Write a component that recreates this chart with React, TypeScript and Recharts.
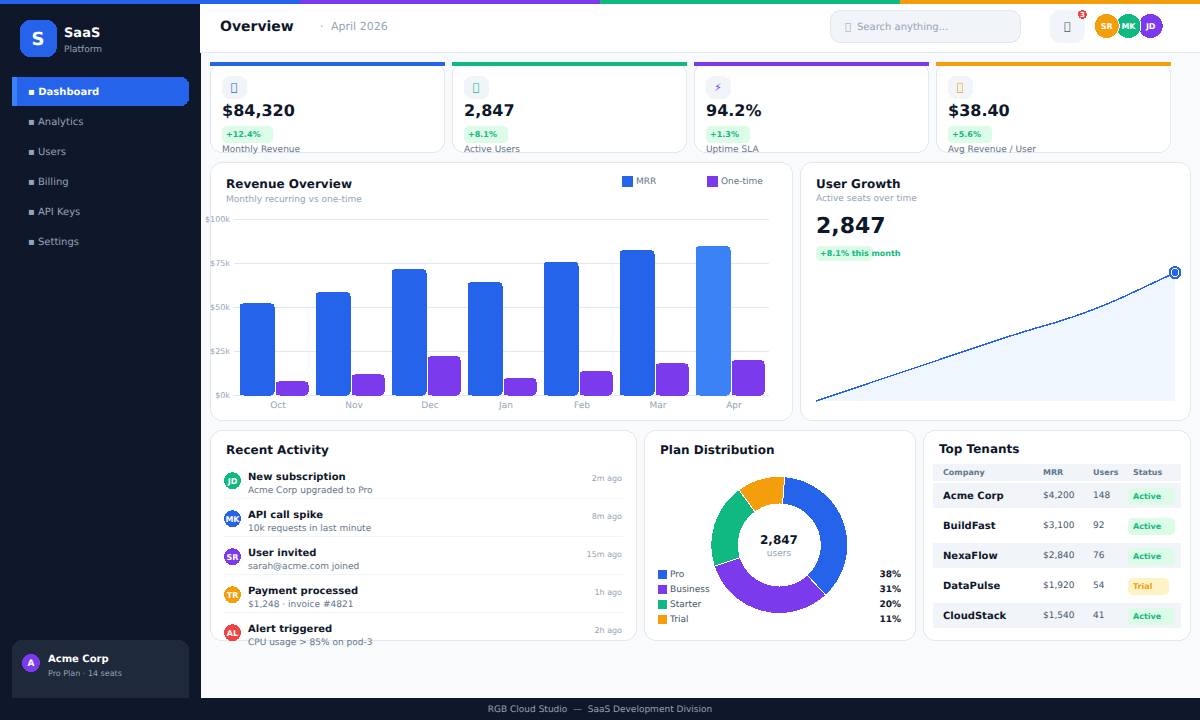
import React from 'react';
import { BarChart, Bar, XAxis, YAxis, CartesianGrid, Cell, AreaChart, Area, PieChart, Pie } from 'recharts';

const FONT = '"DejaVu Sans", sans-serif';
const BLUE = '#2563eb';
const VIOLET = '#7c3aed';
const GREEN = '#10b981';
const AMBER = '#f59e0b';
const RED = '#ef4444';
const INK = '#0f172a';
const SLATE = '#64748b';
const MUTED = '#94a3b8';
const LINE = '#e2e8f0';
const SOFT = '#f1f5f9';
const TOFU = '\uE000';

const stripColors = [BLUE, VIOLET, GREEN, AMBER];
const navItems = ['Dashboard', 'Analytics', 'Users', 'Billing', 'API Keys', 'Settings'];

const kpiIcons = [TOFU, TOFU, '⚡', TOFU];
const kpiColors = [BLUE, GREEN, VIOLET, AMBER];
const kpiValues = ['$84,320', '2,847', '94.2%', '$38.40'];
const kpiDeltas = ['+12.4%', '+8.1%', '+1.3%', '+5.6%'];
const kpiDeltaWidths = [51, 44, 44, 44];
const kpiLabels = ['Monthly Revenue', 'Active Users', 'Uptime SLA', 'Avg Revenue / User'];

const months = ['Oct', 'Nov', 'Dec', 'Jan', 'Feb', 'Mar', 'Apr'];
const mrrValues = [52.3, 58.7, 71.8, 64.4, 75.8, 82.6, 84.8];
const oneTimeValues = [8, 12, 22.3, 9.8, 13.8, 18.2, 20];
const revenueTicks = [0, 25, 50, 75, 100];

const seatValues = [1000, 1144, 1289, 1433, 1577, 1722, 1866, 2004, 2130, 2273, 2446, 2645, 2847];

const planNames = ['Pro', 'Business', 'Starter', 'Trial'];
const planSlices = [132.7, 114.8, 71.8, 40.7];
const planPercents = ['38%', '31%', '20%', '11%'];
const planColors = [BLUE, VIOLET, GREEN, AMBER];

const activityInitials = ['JD', 'MK', 'SR', 'TR', 'AL'];
const activityColors = [GREEN, BLUE, VIOLET, AMBER, RED];
const activityTitles = ['New subscription', 'API call spike', 'User invited', 'Payment processed', 'Alert triggered'];
const activitySubs = ['Acme Corp upgraded to Pro', '10k requests in last minute', 'sarah@acme.com joined', '$1,248 · invoice #4821', 'CPU usage > 85% on pod-3'];
const activityTimes = ['2m ago', '8m ago', '15m ago', '1h ago', '2h ago'];

const tenantNames = ['Acme Corp', 'BuildFast', 'NexaFlow', 'DataPulse', 'CloudStack'];
const tenantMrr = ['$4,200', '$3,100', '$2,840', '$1,920', '$1,540'];
const tenantUsers = ['148', '92', '76', '54', '41'];
const tenantStatus = ['Active', 'Active', 'Active', 'Trial', 'Active'];
const tableHeads = ['Company', 'MRR', 'Users', 'Status'];
const tableHeadX = [943, 1043, 1093, 1133];

const headerAvatars = ['JD', 'MK', 'SR'];
const headerAvatarColors = [VIOLET, GREEN, AMBER];
const headerAvatarX = [1150.7, 1128.5, 1106.7];

const revenueRows = months.map((m, i) => ({ month: m, mrr: mrrValues[i], oneTime: oneTimeValues[i] }));
const seatRows = seatValues.map((v, i) => ({ idx: i, seats: v }));
const planRows = planNames.map((n, i) => ({ name: n, value: planSlices[i] }));

function T({ x, y, size = 9, weight = 400, color = INK, right, center, children }: any) {
  const px = right !== undefined ? right : center !== undefined ? center : x;
  const anchor = right !== undefined ? 'end' : center !== undefined ? 'middle' : 'start';
  return (
    <text x={px} y={Math.round(y + size * 0.346)} fontSize={size} fontWeight={weight} fill={color} textAnchor={anchor} style={{ whiteSpace: 'pre' }}>
      {children}
    </text>
  );
}

function R({ x, y, w, h, bg, r = 0 }: any) {
  return <rect x={x} y={y} width={w} height={h} rx={r} ry={r} fill={bg} />;
}

function Card({ x, y, w, h }: any) {
  return <rect x={x + 0.5} y={y + 0.5} width={w - 1} height={h - 1} rx={12} ry={12} fill="#fff" stroke={LINE} strokeWidth={1} />;
}

function Disc({ cx, cy, d, bg, label, size = 8, stroke }: any) {
  return (
    <>
      <circle cx={cx} cy={cy} r={d / 2} fill={bg} stroke={stroke} strokeWidth={stroke ? 1 : 0} />
      <T center={cx} y={cy} size={size} weight={700} color="#fff">{label}</T>
    </>
  );
}

function LastDot(props: any) {
  const { cx, cy, index } = props;
  if (index !== seatValues.length - 1) return <g key={index} />;
  return (
    <g key={index}>
      <circle cx={cx} cy={cy} r={5.5} fill="#fff" stroke={BLUE} strokeWidth={2} />
      <circle cx={cx} cy={cy} r={3.5} fill={BLUE} />
    </g>
  );
}

export default function App() {
  return (
    <div style={{ position: 'absolute', left: 0, top: 0, width: 1200, height: 720, overflow: 'hidden', background: '#f8fafc', fontFamily: FONT, shapeRendering: 'crispEdges', textRendering: 'geometricPrecision' } as any}>
      <svg width={1200} height={720} style={{ position: 'absolute', left: 0, top: 0, display: 'block' }}>
        {/* sidebar */}
        <R x={0} y={0} w={201} h={720} bg={INK} />
        <R x={20} y={20} w={37} h={37} bg={BLUE} r={10} />
        <T center={38} y={39} size={18} weight={700} color="#fff">S</T>
        <T x={64} y={32.5} size={13} weight={700} color="#fff">SaaS</T>
        <T x={64} y={48.5} size={9} color={MUTED}>Platform</T>
        {navItems.map((n, i) => (
          <React.Fragment key={n}>
            {i === 0 && (
              <>
                <R x={12} y={77} w={177} h={29} bg={BLUE} r={8} />
                <R x={12} y={77} w={14} h={29} bg={BLUE} />
                <R x={12} y={77} w={5} h={29} bg="#3b82f6" />
              </>
            )}
            <T x={28} y={91.5 + i * 30} size={10} weight={i === 0 ? 700 : 400} color={i === 0 ? '#fff' : MUTED}>{'▪ ' + n}</T>
          </React.Fragment>
        ))}
        <R x={12} y={640} w={177} h={70} bg="#1e293b" r={10} />
        <Disc cx={31} cy={663} d={18} bg={VIOLET} label="A" size={9} />
        <T x={48} y={658.5} size={10} weight={700} color="#fff">Acme Corp</T>
        <T x={48} y={673} size={8} color={MUTED}>Pro Plan · 14 seats</T>

        {/* header */}
        <R x={200} y={4} w={1000} h={48} bg="#fff" />
        <R x={200} y={52} w={1000} h={1} bg={LINE} />
        <T x={220} y={26} size={14} weight={700}>Overview</T>
        <T x={320} y={26} size={11} color={MUTED}>·</T>
        <T x={331} y={26} size={11} color={MUTED}>April 2026</T>
        <rect x={830.5} y={10.5} width={190} height={32} rx={10} ry={10} fill={SOFT} stroke={LINE} />
        <T x={845} y={27} size={10} color={MUTED}>{TOFU}</T>
        <T x={857} y={26.5} size={10} color={MUTED}>Search anything...</T>
        <R x={1050} y={10} w={35} h={33} bg={SOFT} r={10} />
        <T x={1064} y={26.5} size={11} color="#475569">{TOFU}</T>
        <Disc cx={1082.5} cy={14.5} d={9} bg={RED} label="3" size={7} />
        {headerAvatars.map((a, i) => (
          <Disc key={a} cx={headerAvatarX[i]} cy={26} d={25} bg={headerAvatarColors[i]} label={a} size={8} stroke="#fff" />
        ))}

        {/* KPI */}
        {kpiValues.map((v, i) => {
          const x = 210 + i * 242;
          return (
            <React.Fragment key={v}>
              <Card x={x} y={62} w={235} h={91} />
              <R x={x} y={62} w={235} h={4} bg={kpiColors[i]} />
              <R x={x + 12} y={76} w={25} h={23} bg={SOFT} r={8} />
              <T center={x + 24} y={87.5} size={11} color={kpiColors[i]}>{kpiIcons[i]}</T>
              <T x={x + 12} y={110.5} size={16} weight={700}>{v}</T>
              <R x={x + 12} y={126} w={kpiDeltaWidths[i]} h={17} bg="#dcfce7" r={5} />
              <T x={x + 16} y={134} size={8} weight={700} color={GREEN}>{kpiDeltas[i]}</T>
              <T x={x + 12} y={148.5} size={9} color={SLATE}>{kpiLabels[i]}</T>
            </React.Fragment>
          );
        })}

        {/* revenue */}
        <Card x={210} y={162} w={583} h={259} />
        <T x={226} y={183.5} size={12} weight={700}>Revenue Overview</T>
        <T x={226} y={198.5} size={9} color={MUTED}>Monthly recurring vs one-time</T>
        <R x={622} y={176} w={11} h={11} bg={BLUE} />
        <T x={636} y={181} size={9} color={SLATE}>MRR</T>
        <R x={707} y={176} w={11} h={11} bg={VIOLET} />
        <T x={721} y={181} size={9} color={SLATE}>One-time</T>

        {/* growth */}
        <Card x={800} y={162} w={391} h={259} />
        <T x={816} y={183.5} size={12} weight={700}>User Growth</T>
        <T x={816} y={198} size={9} color={MUTED}>Active seats over time</T>
        <T x={816} y={225.5} size={22} weight={700}>2,847</T>
        <R x={816} y={246} w={57} h={15} bg="#dcfce7" r={5} />
        <T x={820} y={253.5} size={8} weight={700} color={GREEN}>+8.1% this month</T>

        {/* activity */}
        <Card x={210} y={430} w={427} h={211} />
        <T x={226} y={449.5} size={12} weight={700}>Recent Activity</T>
        {activityTitles.map((t, i) => {
          const y = i * 38;
          return (
            <React.Fragment key={t}>
              <Disc cx={232.5} cy={480.8 + y} d={17} bg={activityColors[i]} label={activityInitials[i]} size={8} />
              <T x={248} y={476.5 + y} size={10} weight={700}>{t}</T>
              <T x={248} y={490 + y} size={9} color={SLATE}>{activitySubs[i]}</T>
              <T right={622} y={478.5 + y} size={8} color={MUTED}>{activityTimes[i]}</T>
              {i < 4 && <R x={224} y={498 + y} w={399} h={1} bg={SOFT} />}
            </React.Fragment>
          );
        })}

        {/* plan */}
        <Card x={644} y={430} w={272} h={211} />
        <T x={660} y={449.5} size={12} weight={700}>Plan Distribution</T>
        <T center={779} y={539.5} size={12} weight={700}>2,847</T>
        <T center={779} y={553} size={9} color={MUTED}>users</T>
        {planNames.map((n, i) => (
          <React.Fragment key={n}>
            <R x={658} y={570 + i * 15} w={9} h={9} bg={planColors[i]} />
            <T x={670} y={574 + i * 15} size={9} color="#475569">{n}</T>
            <T right={901} y={574 + i * 15} size={9} weight={700}>{planPercents[i]}</T>
          </React.Fragment>
        ))}

        {/* tenants */}
        <Card x={923} y={430} w={268} h={211} />
        <T x={939} y={448.5} size={12} weight={700}>Top Tenants</T>
        <R x={933} y={464} w={248} h={17} bg={SOFT} />
        {tableHeads.map((h, i) => <T key={h} x={tableHeadX[i]} y={472.5} size={8} weight={700} color={SLATE}>{h}</T>)}
        {tenantNames.map((n, i) => {
          const y = i * 30;
          const active = tenantStatus[i] === 'Active';
          return (
            <React.Fragment key={n}>
              {i % 2 === 0 && <R x={933} y={483 + y} w={248} h={25} bg={SOFT} />}
              <T x={943} y={495.5 + y} size={10} weight={700}>{n}</T>
              <T x={1043} y={494.5 + y} size={9} color="#475569">{tenantMrr[i]}</T>
              <T x={1093} y={494.5 + y} size={9} color="#475569">{tenantUsers[i]}</T>
              <R x={1128} y={488 + y} w={active ? 47 : 41} h={17} bg={active ? '#dcfce7' : '#fef3c7'} r={5} />
              <T x={1133} y={496 + y} size={8} weight={700} color={active ? GREEN : AMBER}>{tenantStatus[i]}</T>
            </React.Fragment>
          );
        })}

        {/* footer & strip */}
        <R x={0} y={698} w={1200} h={22} bg={INK} />
        <T center={600} y={708.5} size={9} color={MUTED}>{'RGB Cloud Studio  —  SaaS Development Division'}</T>
        {stripColors.map((c, i) => <R key={c} x={i * 300} y={0} w={300} h={4} bg={c} />)}
      </svg>

      <div style={{ position: 'absolute', left: 200, top: 162 }}>
        <BarChart width={600} height={259} data={revenueRows} barCategoryGap={0} barGap={1} margin={{ top: 57.5, right: 31, bottom: 0, left: 0 }}>
          <CartesianGrid vertical={false} stroke={LINE} strokeWidth={1} />
          <XAxis dataKey="month" height={25.5} axisLine={false} tickLine={false} tickSize={0} tickMargin={6} interval={0}
            padding={{ left: 1.5, right: 1.5 }} tick={{ fill: MUTED, fontSize: 9, dx: 4.5 }} />
          <YAxis width={34} domain={[0, 100]} ticks={revenueTicks} axisLine={false} tickLine={false} tickSize={0} tickMargin={4}
            tickFormatter={(v: number) => `$${v}k`} tick={{ fill: MUTED, fontSize: 8 }} />
          <Bar dataKey="mrr" barSize={35} fill={BLUE} radius={4} isAnimationActive={false}>
            {revenueRows.map((r, i) => <Cell key={r.month} fill={i === revenueRows.length - 1 ? '#3b82f6' : BLUE} />)}
          </Bar>
          <Bar dataKey="oneTime" barSize={33} fill={VIOLET} radius={4} isAnimationActive={false} />
        </BarChart>
      </div>

      <div style={{ position: 'absolute', left: 801, top: 162 }}>
        <AreaChart width={390} height={259} data={seatRows} margin={{ top: 110.7, right: 16, bottom: 20, left: 15 }} style={{ overflow: 'visible' }}>
          <XAxis dataKey="idx" hide />
          <YAxis hide domain={[1000, 2847]} />
          <Area type="monotone" dataKey="seats" stroke={BLUE} strokeWidth={1.5} fill="#eff6ff" fillOpacity={1} dot={LastDot} activeDot={false} isAnimationActive={false} />
        </AreaChart>
      </div>

      <div style={{ position: 'absolute', left: 644, top: 430 }}>
        <PieChart width={272} height={211} margin={{ top: 0, right: 0, bottom: 0, left: 0 }}>
          <Pie data={planRows} dataKey="value" nameKey="name" cx={135.3} cy={115} innerRadius={41} outerRadius={68.5} startAngle={85.5} endAngle={-274.5}
            stroke="#fff" strokeWidth={1} isAnimationActive={false}>
            {planRows.map((r, i) => <Cell key={r.name} fill={planColors[i]} />)}
          </Pie>
        </PieChart>
      </div>
    </div>
  );
}
